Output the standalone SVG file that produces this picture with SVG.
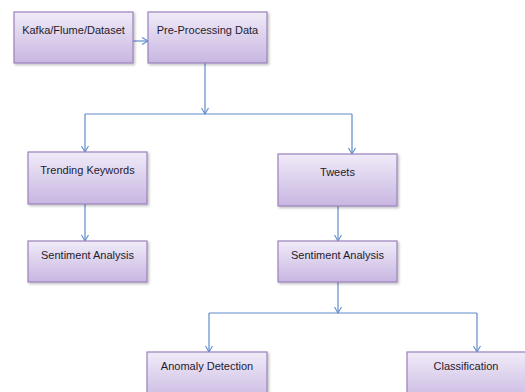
<svg xmlns="http://www.w3.org/2000/svg" width="525" height="392" viewBox="0 0 525 392">
<style>
.box{fill:url(#g);stroke:#9a82bd;stroke-width:1.2}
.t{font-family:"Liberation Sans",Arial,sans-serif;font-size:11px;fill:#1f1b2e;text-anchor:middle}
.c{fill:none;stroke:#5e8ccb;stroke-width:1.2}
</style>
<defs>
<linearGradient id="g" x1="0" y1="0" x2="0" y2="1">
<stop offset="0" stop-color="#f0ebf8"/>
<stop offset="1" stop-color="#c8b6e1"/>
</linearGradient>
<filter id="sh" x="-10%" y="-10%" width="130%" height="130%">
<feDropShadow dx="1.5" dy="1.5" stdDeviation="1" flood-color="#000" flood-opacity="0.25"/>
</filter>
<marker id="a" markerWidth="10" markerHeight="10" refX="8" refY="5" orient="auto" markerUnits="userSpaceOnUse">
<path d="M2,1.5 L8,5 L2,8.5" fill="none" stroke="#5e8ccb" stroke-width="1.1"/>
</marker>
</defs>
<g id="connectors">
<path class="c" d="M133,41 L148,41" marker-end="url(#a)"/>
<path class="c" d="M205,63 L205,114" marker-end="url(#a)"/>
<path class="c" d="M85,114 L352,114"/>
<path class="c" d="M85,114 L85,152" marker-end="url(#a)"/>
<path class="c" d="M352,114 L352,154" marker-end="url(#a)"/>
<path class="c" d="M85,204 L85,241" marker-end="url(#a)"/>
<path class="c" d="M338,206 L338,241" marker-end="url(#a)"/>
<path class="c" d="M338,282 L338,313" marker-end="url(#a)"/>
<path class="c" d="M209,313 L477,313"/>
<path class="c" d="M209,313 L209,352" marker-end="url(#a)"/>
<path class="c" d="M477,313 L477,352" marker-end="url(#a)"/>
</g>
<g id="kafka"><rect class="box" filter="url(#sh)" x="14" y="12" width="119" height="51"/><text class="t" x="73.5" y="34">Kafka/Flume/Dataset</text></g>
<g id="preprocessing"><rect class="box" filter="url(#sh)" x="148" y="12" width="119" height="51"/><text class="t" x="207.5" y="34">Pre-Processing Data</text></g>
<g id="trending"><rect class="box" filter="url(#sh)" x="28" y="152" width="119" height="52"/><text class="t" x="87.5" y="174">Trending Keywords</text></g>
<g id="tweets"><rect class="box" filter="url(#sh)" x="278" y="154" width="119" height="52"/><text class="t" x="337.5" y="176">Tweets</text></g>
<g id="sentiment-left"><rect class="box" filter="url(#sh)" x="28" y="241" width="119" height="41"/><text class="t" x="87.5" y="259">Sentiment Analysis</text></g>
<g id="sentiment-right"><rect class="box" filter="url(#sh)" x="278" y="241" width="119" height="41"/><text class="t" x="337.5" y="259">Sentiment Analysis</text></g>
<g id="anomaly"><rect class="box" filter="url(#sh)" x="147" y="352" width="120" height="52"/><text class="t" x="207" y="370">Anomaly Detection</text></g>
<g id="classification"><rect class="box" filter="url(#sh)" x="407" y="352" width="120" height="52"/><text class="t" x="466" y="370">Classification</text></g>
</svg>
